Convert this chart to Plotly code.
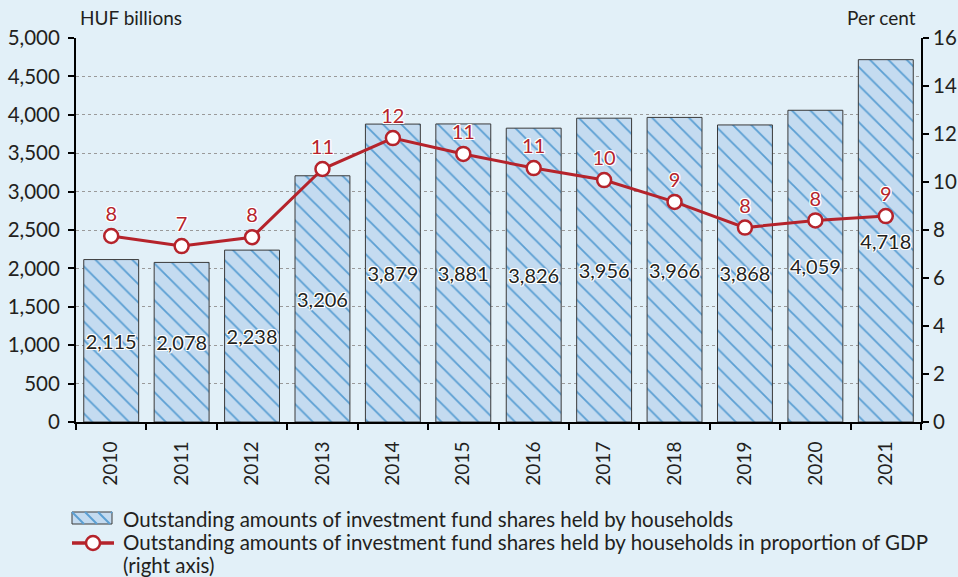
import plotly.graph_objects as go

years = ["2010", "2011", "2012", "2013", "2014", "2015", "2016", "2017", "2018", "2019", "2020", "2021"]
amounts = [2115, 2078, 2238, 3206, 3879, 3881, 3826, 3956, 3966, 3868, 4059, 4718]
gdp_share = [7.75, 7.33, 7.7, 10.54, 11.83, 11.17, 10.58, 10.08, 9.17, 8.1, 8.4, 8.58]
gdp_labels = ["8", "7", "8", "11", "12", "11", "11", "10", "9", "8", "8", "9"]

bar_name = "Outstanding amounts of investment fund shares held by households"
line_name_1 = "Outstanding amounts of investment fund shares held by households in proportion of GDP"
line_name_2 = "(right axis)"

FONT = "Lato"
TXT = "#231f20"
BG = "#e2f0f8"
RED = "#b5232b"
BAR_BG = "#c4dbf0"
BAR_FG = "#5b9fd3"
HALO = ("1px 1px 0px white, -1px -1px 0px white, 1px -1px 0px white, -1px 1px 0px white, "
        "0px 1px 0px white, 0px -1px 0px white, 1px 0px 0px white, -1px 0px 0px white")

W, H = 958, 577
ML, MR, MT, MB = 76, 37, 38, 155
PW, PH = W - ML - MR, H - MT - MB


def px(x):
    return (x - ML) / PW


def py(y):
    return (H - MB - y) / PH


fig = go.Figure()
fig.add_trace(go.Bar(
    x=years, y=amounts, name=bar_name,
    text=[f"{v:,}" for v in amounts],
    textposition="inside", insidetextanchor="middle", constraintext="none", textangle=0,
    textfont=dict(family=FONT, size=20, color=TXT, shadow=HALO),
    marker=dict(
        color=BAR_BG,
        line=dict(color="#3a3a3a", width=1),
        pattern=dict(shape="\\", fgcolor=BAR_FG, bgcolor=BAR_BG, size=13, solidity=0.14, fillmode="replace"),
    ),
    yaxis="y", showlegend=False,
))
fig.add_trace(go.Scatter(
    x=years, y=gdp_share, name=line_name_1, mode="lines+markers+text",
    text=gdp_labels, textposition="top center",
    textfont=dict(family=FONT, size=20, color=RED, shadow=HALO),
    line=dict(color=RED, width=3),
    marker=dict(symbol="circle", size=14, color="white", line=dict(color=RED, width=2.5)),
    yaxis="y2", cliponaxis=False, showlegend=False,
))

# manual legend
shapes = []
lx0, lx1, ly0, ly1 = 72, 112, 512, 524
shapes.append(dict(type="rect", xref="paper", yref="paper", x0=px(lx0), x1=px(lx1), y0=py(ly1), y1=py(ly0),
                   fillcolor=BAR_BG, line=dict(color="#3a3a3a", width=1), layer="above"))
for s in [59, 72, 85, 98, 111]:
    xa, ya, xb, yb = s, ly0, s + (ly1 - ly0), ly1
    if xa < lx0:
        ya += lx0 - xa
        xa = lx0
    if xb > lx1:
        yb -= xb - lx1
        xb = lx1
    if xb > xa and yb > ya:
        shapes.append(dict(type="line", xref="paper", yref="paper", x0=px(xa), y0=py(ya), x1=px(xb), y1=py(yb),
                           line=dict(color=BAR_FG, width=2)))
shapes.append(dict(type="line", xref="paper", yref="paper", x0=px(72), x1=px(114), y0=py(543), y1=py(543),
                   line=dict(color=RED, width=3.5)))
shapes.append(dict(type="circle", xref="paper", yref="paper", x0=px(86), x1=px(100), y0=py(550), y1=py(536),
                   fillcolor="white", line=dict(color=RED, width=2.5)))

annotations = [
    dict(text="HUF billions", xref="paper", yref="paper", x=px(78), y=py(17), xanchor="left",
         yanchor="middle", showarrow=False, font=dict(size=19, color=TXT)),
    dict(text="Per cent", xref="paper", yref="paper", x=px(918), y=py(17), xanchor="right",
         yanchor="middle", showarrow=False, font=dict(size=19, color=TXT)),
]
for t, yy in [(bar_name, 519), (line_name_1, 542), (line_name_2, 565)]:
    annotations.append(dict(text=t, xref="paper", yref="paper", x=px(121), y=py(yy), xanchor="left",
                            yanchor="middle", showarrow=False, font=dict(size=20.5, color=TXT)))

fig.update_layout(
    width=W, height=H,
    paper_bgcolor=BG, plot_bgcolor=BG,
    margin=dict(l=ML, r=MR, t=MT, b=MB, autoexpand=False),
    font=dict(family=FONT, size=20, color=TXT),
    bargap=0.22,
    showlegend=False,
    xaxis=dict(type="category", range=[-0.5, len(years) - 0.5], tickson="boundaries", ticks="outside",
               ticklen=6, tickwidth=2,
               tickcolor="black", showline=True, linecolor="black", linewidth=2, automargin=False,
               tickangle=-90, showgrid=False, tickfont=dict(size=19), ticklabelstandoff=10),
    yaxis=dict(range=[0, 5000], dtick=500, tickformat=",", ticks="outside", ticklen=6, tickwidth=2,
               tickcolor="black", showline=True, linecolor="black", linewidth=2, automargin=False,
               tickfont=dict(size=20.5), ticklabelstandoff=4,
               showgrid=True, gridcolor="#9a9a9a", griddash="dot", gridwidth=1, zeroline=False),
    yaxis2=dict(range=[0, 16], dtick=2, overlaying="y", side="right", ticks="outside", ticklen=6,
                tickwidth=2, tickcolor="black", showline=True, linecolor="black", linewidth=2,
                automargin=False, tickfont=dict(size=20.5), ticklabelstandoff=0,
                showgrid=False, zeroline=False),
    shapes=shapes,
    annotations=annotations,
)

fig.write_html("out.html", config={"displayModeBar": False},
               post_script="document.body.style.margin='0px';")
